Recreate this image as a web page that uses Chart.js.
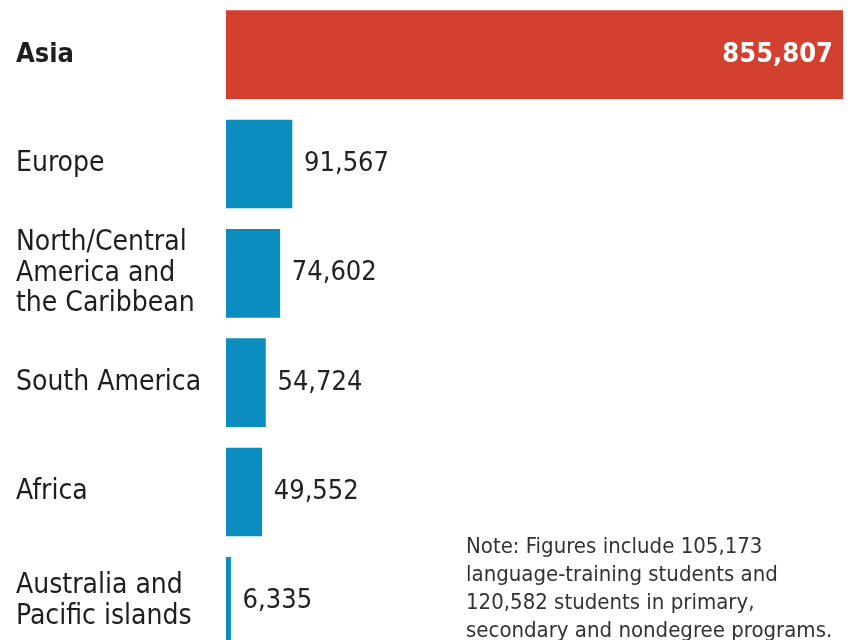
<!DOCTYPE html>
<html>
<head>
<meta charset="utf-8">
<script src="https://cdn.jsdelivr.net/npm/chart.js@4"></script>
<style>
  body { margin: 0; background: #fff; overflow: hidden; }
  .wrap { position: relative; width: 849px; height: 656px; }
  .note {
    position: absolute; left: 466px; top: 532px;
    font-family: 'DejaVu Sans Condensed', 'Liberation Sans Narrow', sans-serif;
    font-size: 22px; line-height: 28px; color: #333;
    white-space: nowrap;
  }
</style>
</head>
<body>
<div class="wrap">
  <canvas id="myChart"></canvas>
  <div class="note">Note: Figures include 105,173<br>language-training students and<br>120,582 students in primary,<br>secondary and nondegree programs.</div>
</div>
<script>
const regions = [
  'Asia',
  'Europe',
  ['North/Central', 'America and', 'the Caribbean'],
  'South America',
  'Africa',
  ['Australia and', 'Pacific islands']
];
const students = [855807, 91567, 74602, 54724, 49552, 6335];
const barColors = ['#d4402f', '#0b8dc0', '#0b8dc0', '#0b8dc0', '#0b8dc0', '#0b8dc0'];

const labelFont = "'Liberation Sans Narrow', 'DejaVu Sans Condensed', sans-serif";

// value labels at the end of each bar (the biggest one sits inside, in white)
const valueLabels = {
  id: 'valueLabels',
  afterDatasetsDraw(chart) {
    const ctx = chart.ctx;
    const meta = chart.getDatasetMeta(0);
    ctx.save();
    ctx.textBaseline = 'middle';
    meta.data.forEach((bar, i) => {
      const txt = students[i].toLocaleString('en-US');
      if (i === 0) {
        ctx.font = 'bold 27px ' + labelFont;
        ctx.fillStyle = '#fff';
        ctx.textAlign = 'right';
        ctx.fillText(txt, bar.x - 10, bar.y);
      } else {
        ctx.font = '27px ' + labelFont;
        ctx.fillStyle = '#222';
        ctx.textAlign = 'left';
        ctx.fillText(txt, bar.x + 12, bar.y);
      }
    });
    ctx.restore();
  }
};

let ctx = document.getElementById('myChart').getContext('2d');
let chart = new Chart(ctx, {
  type: 'bar',
  data: {
    labels: regions,
    datasets: [{
      data: students,
      backgroundColor: barColors,
      borderWidth: 0,
      barThickness: 88
    }]
  },
  options: {
    indexAxis: 'y',
    responsive: true,
    maintainAspectRatio: false,
    animation: false,
    layout: { padding: { left: 16, right: 6, top: 0, bottom: 0 } },
    plugins: {
      legend: { display: false },
      tooltip: { enabled: false }
    },
    scales: {
      x: {
        display: false,
        min: 0,
        max: Math.max(...students)
      },
      y: {
        grid: { display: false, drawTicks: false },
        border: { display: false },
        afterFit(scale) {
          scale.width = 210;
          scale.paddingTop = 0;
          scale.paddingBottom = 0;
        },
        ticks: {
          autoSkip: false,
          maxRotation: 0,
          crossAlign: 'far',
          padding: 0,
          color: '#1e1e1e',
          font: (c) => ({
            family: labelFont,
            size: c.index === 0 ? 27 : 28,
            weight: c.index === 0 ? 'bold' : 'normal',
            lineHeight: 1.08
          })
        }
      }
    }
  },
  plugins: [valueLabels]
});
</script>
</body>
</html>
